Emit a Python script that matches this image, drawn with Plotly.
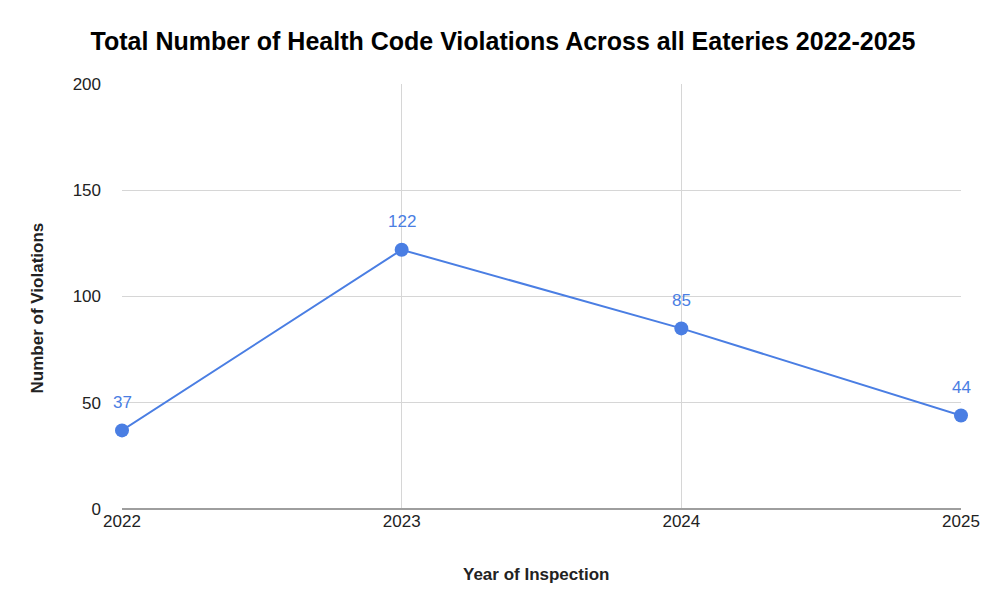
import plotly.graph_objects as go

years = [2022, 2023, 2024, 2025]
violations = [37, 122, 85, 44]
y_ticks = [0, 50, 100, 150, 200]

blue = "#4a7ee3"
FONT = "Liberation Sans, Arial"

fig = go.Figure()
fig.add_trace(go.Scatter(
    x=years, y=violations, mode="lines+markers",
    line=dict(color=blue, width=2),
    marker=dict(color=blue, size=14),
    cliponaxis=False, showlegend=False,
))

for x, y in zip(years, violations):
    fig.add_annotation(x=x, y=y, text=str(y), showarrow=False, yshift=28,
                       font=dict(family=FONT, size=17, color=blue))

fig.add_annotation(xref="paper", yref="paper", x=0.494, y=-0.155, yanchor="middle",
                   text="<b>Year of Inspection</b>", showarrow=False,
                   font=dict(family=FONT, size=17, color="#222"))
fig.add_annotation(xref="paper", yref="paper", x=-0.1013, y=0.472, xanchor="center",
                   text="<b>Number of Violations</b>", showarrow=False, textangle=-90,
                   font=dict(family=FONT, size=17, color="#222"))

fig.update_layout(
    width=1000, height=608,
    paper_bgcolor="white", plot_bgcolor="white",
    margin=dict(l=114, r=47, t=76, b=107),
    title=dict(text="<b>Total Number of Health Code Violations Across all Eateries 2022-2025</b>",
               x=0.495, xanchor="center", y=0.9457, yanchor="middle",
               font=dict(family=FONT, size=25, color="black")),
    font=dict(family=FONT, color="black"),
)
fig.update_xaxes(
    range=[2022, 2025], tickvals=years, ticktext=[str(y) for y in years],
    showgrid=True, gridcolor="#d6d6d6", gridwidth=1,
    zeroline=False, showline=False, ticks="", automargin=False,
    tickfont=dict(size=17, color="#222"), ticklabelstandoff=0,
)
fig.update_yaxes(
    range=[0, 200], tickvals=y_ticks,
    showgrid=True, gridcolor="#d6d6d6", gridwidth=1,
    zeroline=True, zerolinecolor="#9e9e9e", zerolinewidth=2,
    showline=False, ticks="", automargin=False,
    tickfont=dict(size=17, color="#222"), ticklabelstandoff=20,
)

fig.write_html("out.html")
